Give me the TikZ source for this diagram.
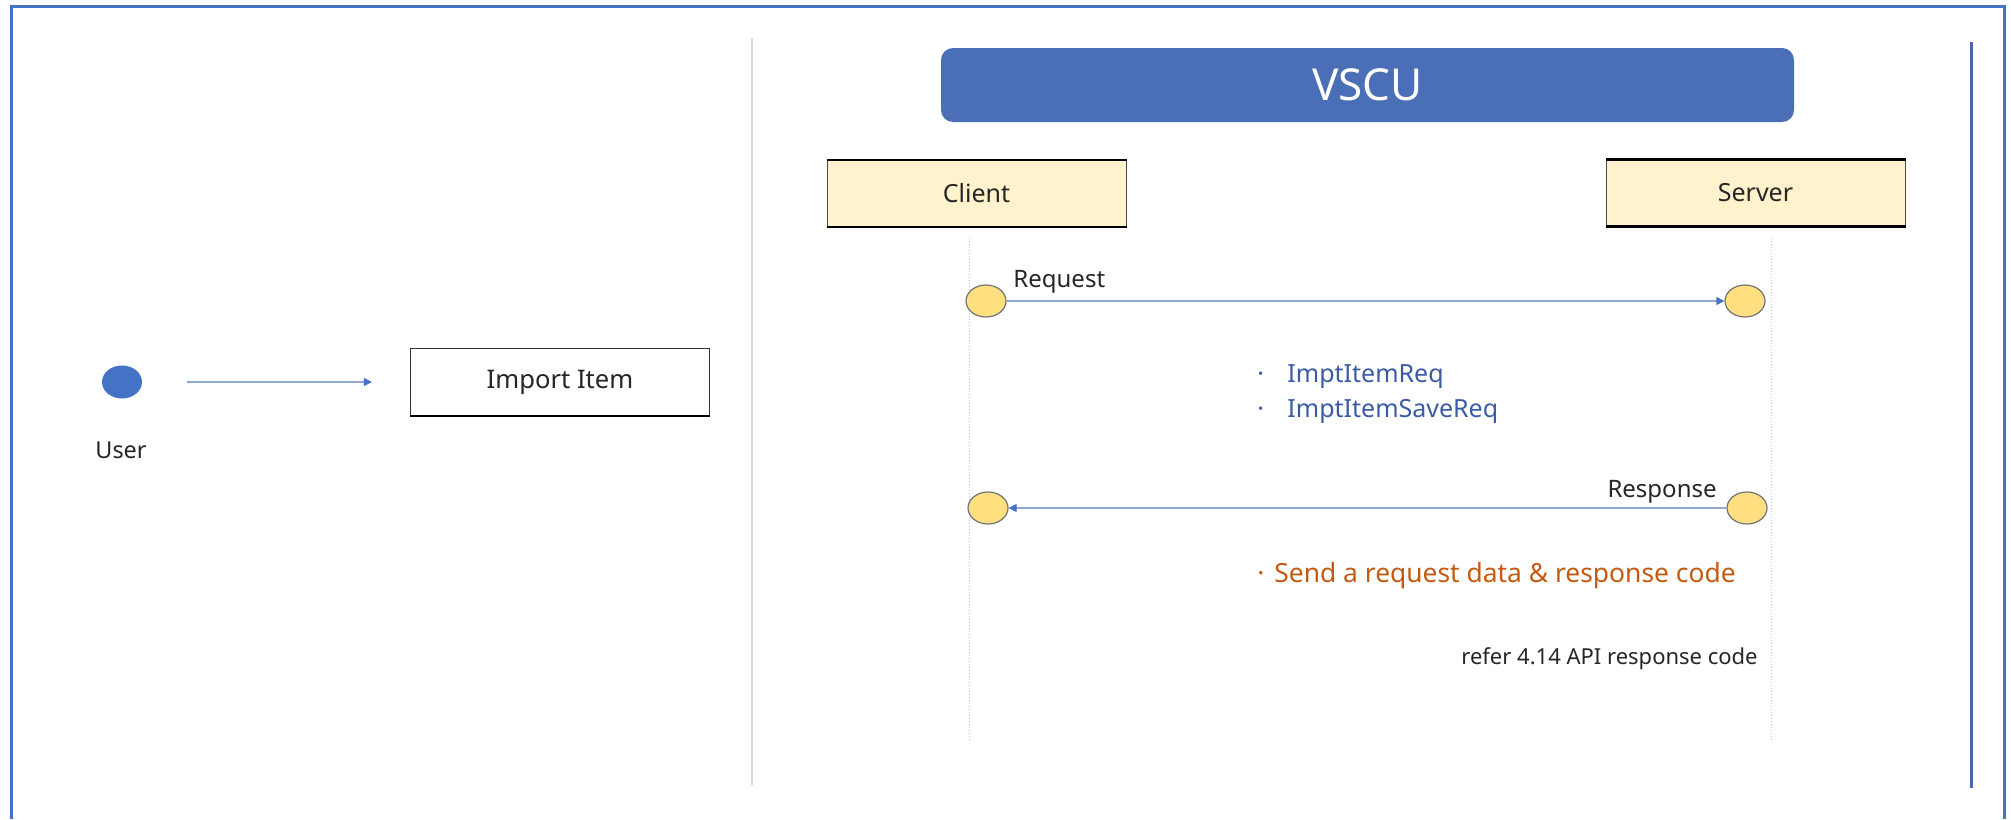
\documentclass[tikz,border=0pt]{standalone}
\usepackage{fontspec}
\setmainfont{Noto Sans}
\usetikzlibrary{arrows.meta,shapes.geometric}
\definecolor{frameblue}{HTML}{4472C4}
\definecolor{barblue}{HTML}{4A6FB6}
\definecolor{rlineblue}{HTML}{4A66A8}
\definecolor{boxyellow}{HTML}{FFF2CC}
\definecolor{dotyellow}{HTML}{FFDF80}
\definecolor{lifeblue}{HTML}{B4C7E7}
\definecolor{arrowgray}{HTML}{8FA6CF}
\definecolor{txtblue}{HTML}{3B5BA5}
\definecolor{txtorange}{HTML}{C55A11}
\definecolor{txtdark}{HTML}{262626}
\definecolor{sepgray}{HTML}{D9D9D9}
\tikzset{
  frameline/.style={draw=frameblue, line width=1.5pt},
  userdot/.style={ellipse, fill=frameblue, draw=none, minimum width=20pt, minimum height=16.5pt, inner sep=0pt},
  lbl/.style={inner sep=0pt, text=txtdark},
  impbox/.style={rectangle, draw=black!80, line width=0.6pt, fill=white, minimum width=149.5pt, minimum height=33.5pt, inner sep=0pt, text=txtdark, font=\fontsize{12.8pt}{15pt}\selectfont},
  actorbox/.style={rectangle, draw=black!70, line width=0.5pt, fill=boxyellow, minimum width=149.5pt, minimum height=33pt, inner sep=0pt, text=txtdark, font=\fontsize{12.5pt}{15pt}\selectfont},
  vscubar/.style={rectangle, rounded corners=6pt, fill=barblue, draw=none, minimum width=426.5pt, minimum height=37pt, inner sep=0pt, text=white, font=\fontsize{22pt}{26pt}\selectfont},
  msgdot/.style={ellipse, fill=dotyellow, draw=black!55, line width=0.6pt, minimum width=20pt, minimum height=16pt, inner sep=0pt},
  flow/.style={draw=arrowgray, line width=0.6pt, -{Triangle[length=4pt,width=4pt,fill=frameblue,color=frameblue]}},
  lifeline/.style={draw=lifeblue, line width=0.5pt, densely dotted},
  sepline/.style={draw=sepgray, line width=0.6pt},
  rline/.style={draw=rlineblue, line width=1.5pt},
  msgtxt/.style={inner sep=0pt, text=txtdark, font=\fontsize{12pt}{14pt}\selectfont},
  bluetxt/.style={inner sep=0pt, text=txtblue, font=\fontsize{12.5pt}{15pt}\selectfont},
  orangetxt/.style={inner sep=0pt, text=txtorange, font=\fontsize{13.2pt}{16pt}\selectfont},
  smalltxt/.style={inner sep=0pt, text=txtdark, font=\fontsize{11pt}{13pt}\selectfont}
}
\begin{document}
\begin{tikzpicture}[x=0.5pt,y=-0.5pt]
\useasboundingbox (0,0) rectangle (2011,819);
\fill[white] (0,0) rectangle (2011,819);
% outer frame
\draw[frameline] (11,819) -- (11,6) -- (2004,6) -- (2004,819);

% left part
\node[userdot] (user) at (122,382) {};
\node[lbl, font=\fontsize{11.7pt}{14pt}\selectfont] (userlbl) at (121,450) {User};
\node[impbox] (imp) at (560,382) {Import Item};
\draw[black, line width=1.1pt] (imp.south west) -- (imp.south east);
\draw[flow] ([xshift=22.5pt]user.east) -- ([xshift=-19pt]imp.west);

% separator
\draw[sepline] (752,38) -- (752,785);

% VSCU
\node[vscubar] (vscu) at (1367.5,85) {VSCU};

% actors
\node[actorbox] (client) at (976.5,193.5) {Client};
\node[actorbox] (server) at (1755.5,193) {Server};
\foreach \n in {client,server}{
  \draw[black, line width=1.3pt] (\n.north west) -- (\n.north east);
  \draw[black, line width=1.3pt] (\n.south west) -- (\n.south east);
}

% lifelines
\coordinate (cltop) at (969,238);
\coordinate (clbot) at (969,742);
\coordinate (svtop) at (1771,238);
\coordinate (svbot) at (1771,742);
\draw[lifeline] (cltop) -- (clbot);
\draw[lifeline] (svtop) -- (svbot);

% message points
\node[msgdot] (rq1) at (986,301) {};
\node[msgdot] (rq2) at (1745,301) {};
\node[msgdot] (rs1) at (988,508) {};
\node[msgdot] (rs2) at (1747,508) {};

\draw[flow] (rq1.east) -- (rq2.west);
\draw[flow] (rs2.west) -- (rs1.east);

\node[msgtxt, anchor=west] (reqlbl) at (1013,282) {Request};
\node[msgtxt, anchor=east] (reslbl) at (1717,492) {Response};

\node[bluetxt, anchor=west] (b1) at (1257,377) {\makebox[15pt][l]{·}ImptItemReq};
\node[bluetxt, anchor=west] (b2) at (1257,411) {\makebox[15pt][l]{·}ImptItemSaveReq};

\node[orangetxt, anchor=west] (o1) at (1257,576) {\makebox[8.5pt][l]{·}Send a request data \& response code};
\node[smalltxt, anchor=east] (ref) at (1758,659) {refer 4.14 API response code};

% right line
\draw[rline] (1971,42) -- (1971,788);
\end{tikzpicture}
\end{document}
